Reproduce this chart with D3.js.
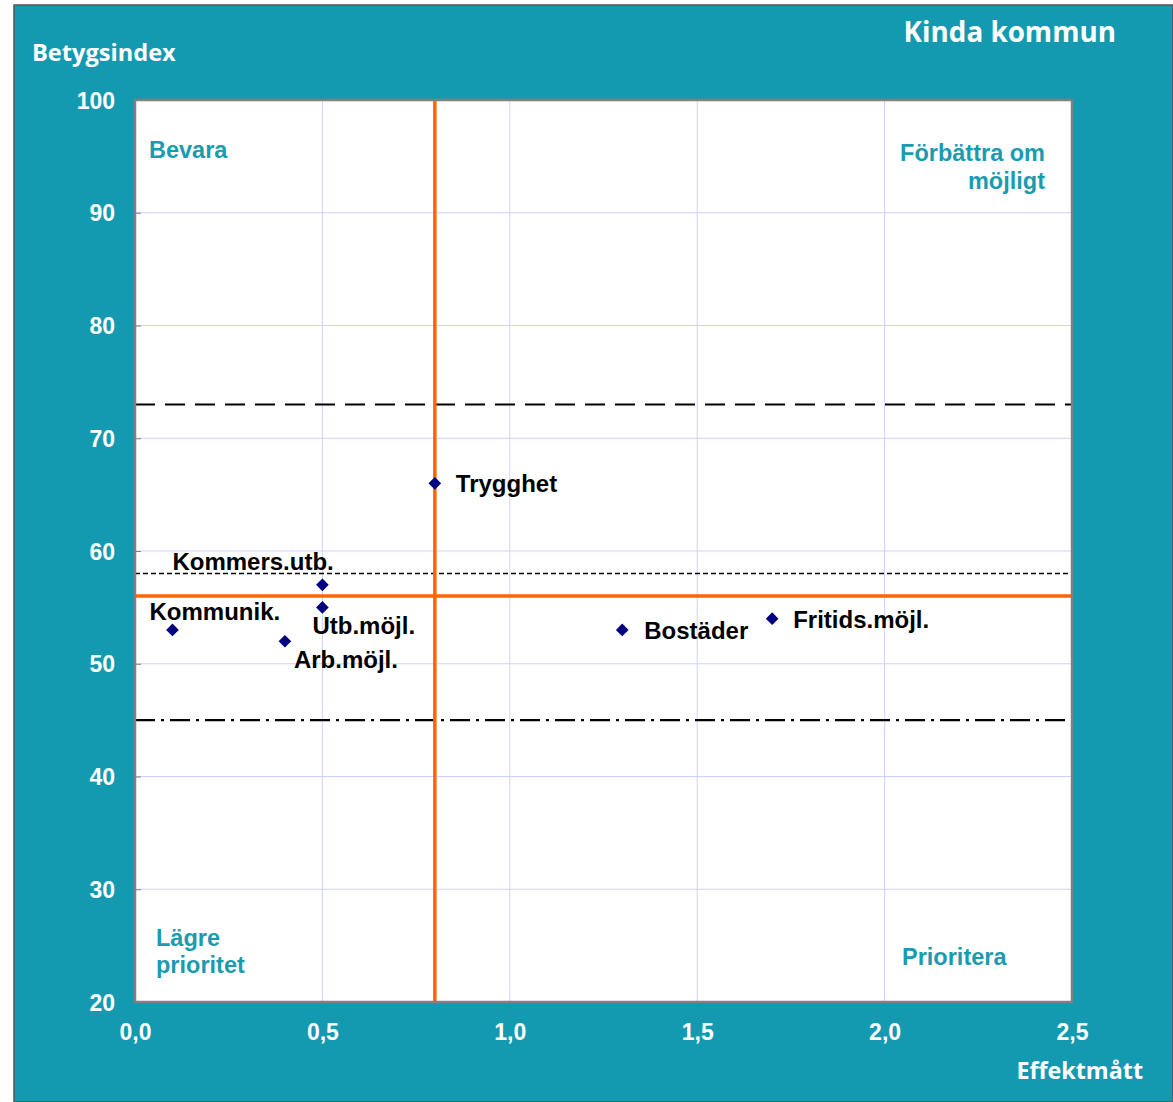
<!DOCTYPE html>
<html><head><meta charset="utf-8">
<script src="https://cdn.jsdelivr.net/npm/d3@7"></script>
<style>html,body{margin:0;padding:0;background:#fff;}svg{display:block;}</style>
</head><body>
<script>
const labels = ["Trygghet","Kommers.utb.","Utb.möjl.","Kommunik.","Arb.möjl.","Bostäder","Fritids.möjl."];
const effekt = [0.8, 0.5, 0.5, 0.1, 0.4, 1.3, 1.7];
const betyg = [66, 57, 55, 53, 52, 53, 54];
const labelDx = [21, -150, -10, -23, 9, 22, 21];
const labelDy = [9, -15, 27, -10, 27, 9, 9];
const xTicks = [0, 0.5, 1.0, 1.5, 2.0, 2.5];
const yTicks = [20, 30, 40, 50, 60, 70, 80, 90, 100];
const crossX = 0.8, crossY = 56;
const refLines = [{y:73, dash:"20,10", w:2}, {y:58, dash:"5,3", w:1.5}, {y:45, dash:"20,6,3,6", w:2.2}];

const W = 1173, H = 1102;
const teal = "#149AB0";
const svg = d3.select("body").append("svg").attr("width", W).attr("height", H);
svg.append("rect").attr("x",14).attr("y",5).attr("width",W-14).attr("height",H-5)
  .attr("fill",teal).attr("stroke","#555").attr("stroke-width",1.5);

const x = d3.scaleLinear().domain([0,2.5]).range([135,1072]);
const y = d3.scaleLinear().domain([20,100]).range([1002,100]);

svg.append("rect").attr("x",x(0)).attr("y",y(100)).attr("width",x(2.5)-x(0)).attr("height",y(20)-y(100))
  .attr("fill","#fff");

// grid
const g = svg.append("g");
g.selectAll(".vg").data(xTicks.slice(1,-1)).join("line")
  .attr("x1",d=>x(d)).attr("x2",d=>x(d)).attr("y1",y(100)).attr("y2",y(20))
  .attr("stroke","#d0d0ff").attr("stroke-width",1);
g.selectAll(".hg").data(yTicks.slice(1,-1)).join("line")
  .attr("x1",x(0)).attr("x2",x(2.5)).attr("y1",d=>y(d)).attr("y2",d=>y(d))
  .attr("stroke","#d0d0ff").attr("stroke-width",1);

const tickFont = sel => sel.attr("fill","#fff").style("font-family","'Liberation Sans',Arial,sans-serif")
  .style("font-weight","bold").style("font-size","23px");

// axes (ticks inside)
const yAxis = d3.axisLeft(y).tickValues(yTicks).tickSize(-6).tickFormat(d=>d);
const yg = svg.append("g").attr("transform",`translate(${x(0)},0)`).call(yAxis);
yg.select(".domain").remove();
yg.selectAll(".tick line").attr("stroke","#808080");
yg.selectAll(".tick text").attr("x",-20).attr("dy","0.35em").call(tickFont);

const xAxis = d3.axisBottom(x).tickValues(xTicks).tickSize(0).tickFormat(d=>d3.format(".1f")(d).replace(".",","));
const xg = svg.append("g").attr("transform",`translate(0,${y(20)})`).call(xAxis);
xg.select(".domain").remove();
xg.selectAll(".tick text").attr("y",38).attr("dy",0).call(tickFont);

// ref lines
svg.selectAll(".ref").data(refLines).join("line")
  .attr("x1",x(0)).attr("x2",x(2.5)).attr("y1",d=>y(d.y)).attr("y2",d=>y(d.y))
  .attr("stroke","#000").attr("stroke-width",d=>d.w).attr("stroke-dasharray",d=>d.dash);

// orange cross
svg.append("line").attr("x1",x(crossX)).attr("x2",x(crossX)).attr("y1",y(100)).attr("y2",y(20))
  .attr("stroke","#FF6600").attr("stroke-width",3.5);
svg.append("line").attr("x1",x(0)).attr("x2",x(2.5)).attr("y1",y(crossY)).attr("y2",y(crossY))
  .attr("stroke","#FF6600").attr("stroke-width",3.5);

// plot border
svg.append("rect").attr("x",x(0)).attr("y",y(100)).attr("width",x(2.5)-x(0)).attr("height",y(20)-y(100))
  .attr("fill","none").attr("stroke","#808080").attr("stroke-width",2.5);

// points
const sym = d3.symbol().type(d3.symbolSquare).size(80);
const idx = d3.range(labels.length);
svg.selectAll(".pt").data(idx).join("path")
  .attr("d",sym).attr("transform",i=>`translate(${x(effekt[i])},${y(betyg[i])}) rotate(45)`)
  .attr("fill","#000080");
svg.selectAll(".lbl").data(idx).join("text")
  .attr("x",i=>x(effekt[i])+labelDx[i]).attr("y",i=>y(betyg[i])+labelDy[i])
  .text(i=>labels[i]).attr("fill","#000")
  .style("font-family","'Liberation Sans',Arial,sans-serif").style("font-weight","bold").style("font-size","24px");

// quadrant labels
const qf = sel => sel.attr("fill","#1A9BB0").style("font-family","'Liberation Sans',Arial,sans-serif")
  .style("font-weight","bold").style("font-size","23.5px");
svg.append("text").attr("x",149).attr("y",158).text("Bevara").call(qf);
svg.append("text").attr("x",1045).attr("y",161).attr("text-anchor","end").text("Förbättra om").call(qf);
svg.append("text").attr("x",1045).attr("y",189).attr("text-anchor","end").text("möjligt").call(qf);
svg.append("text").attr("x",156).attr("y",946).text("Lägre").call(qf);
svg.append("text").attr("x",156).attr("y",973).text("prioritet").call(qf);
svg.append("text").attr("x",902).attr("y",965).text("Prioritera").call(qf);

// titles
const tf = (sel,sz) => sel.attr("fill","#fff").style("font-family","'Open Sans',sans-serif")
  .style("font-weight","bold").style("font-size",sz+"px");
svg.append("text").attr("x",1116).attr("y",42).attr("text-anchor","end").text("Kinda kommun").call(tf,27.8);
svg.append("text").attr("x",32).attr("y",61).text("Betygsindex").call(tf,23.6);
svg.append("text").attr("x",1143).attr("y",1079).attr("text-anchor","end").text("Effektmått").call(tf,23.3);
</script>
</body></html>
